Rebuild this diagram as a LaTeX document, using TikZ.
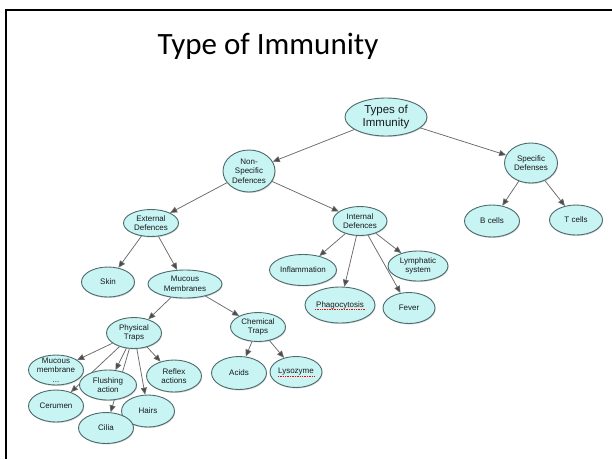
\documentclass[tikz,border=0pt]{standalone}
\usepackage{fontspec}
\setmainfont{Liberation Sans}
\newfontfamily\titlefont{Carlito}
\usetikzlibrary{shapes.geometric,arrows.meta,backgrounds,shadows}
\definecolor{conceptc}{HTML}{C8F4F4}
\definecolor{borderc}{HTML}{4E6B6B}
\definecolor{linkc}{HTML}{6A6A6A}
\definecolor{tipc}{HTML}{4A4A4A}

\begin{document}
\begin{tikzpicture}[x=1pt,y=-1pt,
  concept/.style={ellipse,draw=borderc,line width=0.9pt,fill=conceptc,inner sep=0pt,
    align=center,font=\fontsize{8}{9.5}\selectfont,text=black!90,
    drop shadow={shadow xshift=0.6pt,shadow yshift=-1pt,opacity=0.35}},
  link/.style={draw=linkc,line width=0.75pt,-{Triangle[length=7pt,width=6pt,fill=tipc]}},
  squiggle/.style={red,densely dotted,line width=0.7pt}]
\useasboundingbox (0,0) rectangle (612,459);
\draw[line width=2.5pt] (6,459) -- (6,10) -- (612,10);
\node[font=\titlefont\fontsize{31}{37}\selectfont] (title) at (268,46) {Type of Immunity};
\node[concept,minimum width=82pt,minimum height=38pt,font=\fontsize{11.5}{13.5}\selectfont] (types) at (386,117) {Types of\\Immunity};
\node[concept,minimum width=52pt,minimum height=42pt] (nonspec) at (249,171) {Non-\\Specific\\Defences};
\node[concept,minimum width=53pt,minimum height=40pt] (spec) at (531,163) {Specific\\Defenses};
\node[concept,minimum width=55pt,minimum height=27pt] (extdef) at (151,223) {External\\Defences};
\node[concept,minimum width=54pt,minimum height=29pt] (intdef) at (360,221) {Internal\\Defences};
\node[concept,minimum width=55pt,minimum height=32pt] (bcell) at (492,221) {B cells};
\node[concept,minimum width=53pt,minimum height=30pt] (tcell) at (576,220) {T cells};
\node[concept,minimum width=67pt,minimum height=31pt] (inflam) at (303,270) {Inflammation};
\node[concept,minimum width=60pt,minimum height=30pt] (lymph) at (418,266) {Lymphatic\\system};
\node[concept,minimum width=70pt,minimum height=36pt] (phago) at (340,305) {Phagocytosis};
\node[concept,minimum width=52pt,minimum height=31pt] (fever) at (409,308) {Fever};
\node[concept,minimum width=53pt,minimum height=30pt] (skin) at (108,282) {Skin};
\node[concept,minimum width=74pt,minimum height=28pt] (mucmem) at (185,284) {Mucous\\Membranes};
\node[concept,minimum width=55pt,minimum height=31pt] (phystrap) at (134,333) {Physical\\Traps};
\node[concept,minimum width=55pt,minimum height=29pt] (chemtrap) at (258,327) {Chemical\\Traps};
\node[concept,minimum width=55pt,minimum height=33pt] (acids) at (239,373) {Acids};
\node[concept,minimum width=52pt,minimum height=31pt] (lyso) at (296,372) {Lysozyme};
\node[concept,minimum width=55pt,minimum height=30pt,
  label={[align=center,font=\fontsize{8}{9.5}\selectfont,text=black!90]center:{Mucous\\membrane\\...}}] (mucous) at (56,370) {};
\node[concept,minimum width=55pt,minimum height=32pt] (reflex) at (174,376) {Reflex\\actions};
\node[concept,minimum width=55pt,minimum height=32pt] (cerumen) at (56,406) {Cerumen};
\node[concept,minimum width=57pt,minimum height=30pt] (flush) at (108,385) {Flushing\\action};
\node[concept,minimum width=53pt,minimum height=32pt] (hairs) at (148,411) {Hairs};
\node[concept,minimum width=55pt,minimum height=31pt] (cilia) at (106,428) {Cilia};
\draw[squiggle] ([xshift=-25pt,yshift=-2pt]phago.base) -- ([xshift=25pt,yshift=-2pt]phago.base);
\draw[squiggle] ([xshift=-18pt,yshift=-2pt]lyso.base) -- ([xshift=18pt,yshift=-2pt]lyso.base);
\begin{scope}[on background layer]
\draw[link] (types) -- (nonspec);
\draw[link] (types) -- (spec);
\draw[link] (spec) -- (bcell);
\draw[link] (spec) -- (tcell);
\draw[link] (nonspec) -- (extdef);
\draw[link] (nonspec) -- (intdef);
\draw[link] (intdef) -- (inflam);
\draw[link] (intdef) -- (phago);
\draw[link] (intdef) -- (fever);
\draw[link] (intdef) -- (lymph);
\draw[link] (extdef) -- (skin);
\draw[link] (extdef) -- (mucmem);
\draw[link] (mucmem) -- (phystrap);
\draw[link] (mucmem) -- (chemtrap);
\draw[link] (chemtrap) -- (acids);
\draw[link] (chemtrap) -- (lyso);
\draw[link] (phystrap) -- (mucous);
\draw[link] (phystrap) -- (cerumen);
\draw[link] (phystrap) -- (flush);
\draw[link] (phystrap) -- (cilia);
\draw[link] (phystrap) -- (hairs);
\draw[link] (phystrap) -- (reflex);
\end{scope}
\end{tikzpicture}
\end{document}
